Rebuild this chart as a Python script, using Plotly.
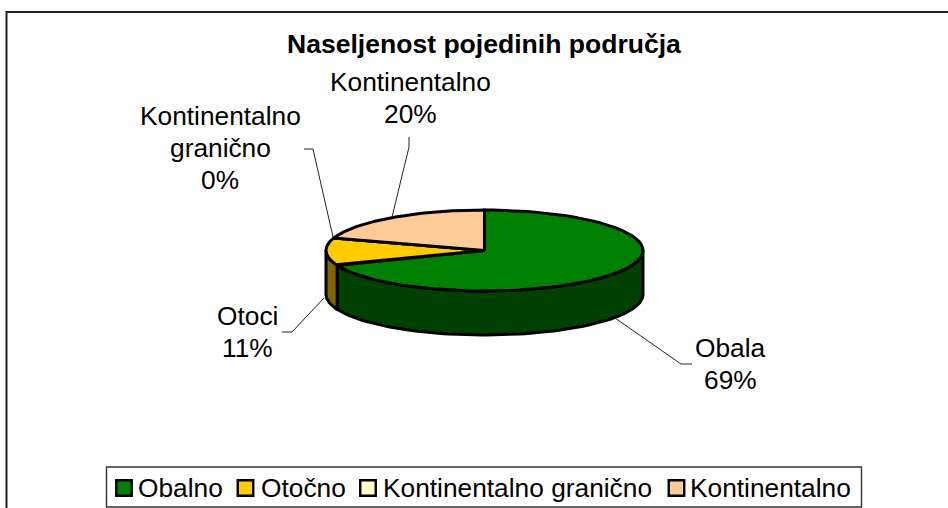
import math
import plotly.graph_objects as go

legend_names = ["Obalno", "Otočno", "Kontinentalno granično", "Kontinentalno"]
label_names = ["Obala", "Otoci", "Kontinentalno<br>granično", "Kontinentalno"]
values = [69, 11, 0, 20]
top_colors = ["#008000", "#FFCC00", "#FFFFCC", "#FFCC99"]
side_colors = ["#004000", "#806600", "#808066", "#80664D"]

title = "Naseljenost pojedinih područja"
FONT = "Liberation Sans, Arial, sans-serif"
FS = 26.3
LINE_H = 32
CX, CY, RX, RY, DEPTH = 484.5, 250.5, 158.5, 40.5, 44
label_pos = [(730, 364), (247, 332), (220, 148), (410, 98)]
leaders = [[(615, 318), (681, 364), (692, 364)],
           [(324, 298), (292, 332), (282, 332)],
           [(333, 237), (313, 149), (304, 149)],
           [(392, 217), (409, 147), (409, 137)]]
legend_swatch_x = [124, 245.5, 368, 676.5]
legend_text_x = [136, 259, 381, 687.5]
LEGEND_Y = 488


def pt(t, dy=0.0):
    return CX + RX * math.sin(t), CY - RY * math.cos(t) + dy


def arc(a, b, dy=0.0, n=80):
    return [pt(a + (b - a) * i / n, dy) for i in range(n + 1)]


fig = go.Figure()
total = sum(values)
start = 0.0
spans = []
for v in values:
    end = start + 2 * math.pi * v / total
    spans.append((start, end))
    start = end

LINE = dict(color="black", width=3)


def poly(points, fill, name):
    fig.add_trace(go.Scatter(
        x=[p[0] for p in points], y=[p[1] for p in points],
        mode="lines", fill="toself", fillcolor=fill, line=LINE,
        name=name, showlegend=False, hoverinfo="name"))


# side walls: only the front half of the rim is visible
for (a, b), c, n in zip(spans, side_colors, legend_names):
    lo, hi = max(a, math.pi / 2), min(b, 3 * math.pi / 2)
    if hi > lo:
        pts = arc(lo, hi) + arc(hi, lo, DEPTH)
        poly(pts + [pts[0]], c, n)

# top faces
for (a, b), c, n in zip(spans, top_colors, legend_names):
    pts = [(CX, CY)] + arc(a, b) + [(CX, CY)]
    poly(pts, c, n)

# leader lines
for seg in leaders:
    fig.add_trace(go.Scatter(x=[p[0] for p in seg], y=[p[1] for p in seg], mode="lines",
                             line=dict(color="#222222", width=1), showlegend=False, hoverinfo="skip"))

# legend swatches
for n, c, x in zip(legend_names, top_colors, legend_swatch_x):
    fig.add_trace(go.Scatter(x=[x], y=[LEGEND_Y], mode="markers", name=n, showlegend=False,
                             marker=dict(symbol="square", size=15.5, color=c,
                                         line=dict(color="black", width=2.4))))

font = dict(size=FS, color="black", family=FONT)
annotations = [dict(x=CX - 1, y=44, text="<b>%s</b>" % title, showarrow=False,
                    font=dict(size=26.55, color="black", family=FONT), xref="x", yref="y")]
for (x, y), name, v in zip(label_pos, label_names, values):
    lines = name.split("<br>") + ["%d%%" % round(100 * v / total)]
    for i, line in enumerate(lines):
        annotations.append(dict(x=x, y=y + (i - (len(lines) - 1) / 2) * LINE_H, text=line,
                                showarrow=False, xref="x", yref="y", font=font))
for n, x in zip(legend_names, legend_text_x):
    annotations.append(dict(x=x, y=LEGEND_Y, text=n, showarrow=False, xanchor="left",
                            xref="x", yref="y", font=font))

fig.update_layout(
    width=948, height=508, margin=dict(l=0, r=0, t=0, b=0, autoexpand=False),
    paper_bgcolor="white", plot_bgcolor="white",
    xaxis=dict(range=[0, 948], visible=False, fixedrange=True),
    yaxis=dict(range=[508, 0], visible=False, fixedrange=True),
    annotations=annotations,
    shapes=[dict(type="path", path="M 6.5 508 L 6.5 12 L 948 12", xref="x", yref="y",
                 line=dict(color="#222222", width=2), layer="below"),
            dict(type="rect", x0=106.5, x1=861.5, y0=467, y1=507, xref="x", yref="y",
                 line=dict(color="#333333", width=1.4), fillcolor="white", layer="below")],
    showlegend=False,
)
fig.write_html("out.html", config=dict(displayModeBar=False),
               post_script="document.body.style.margin='0';document.body.style.overflow='hidden';")
